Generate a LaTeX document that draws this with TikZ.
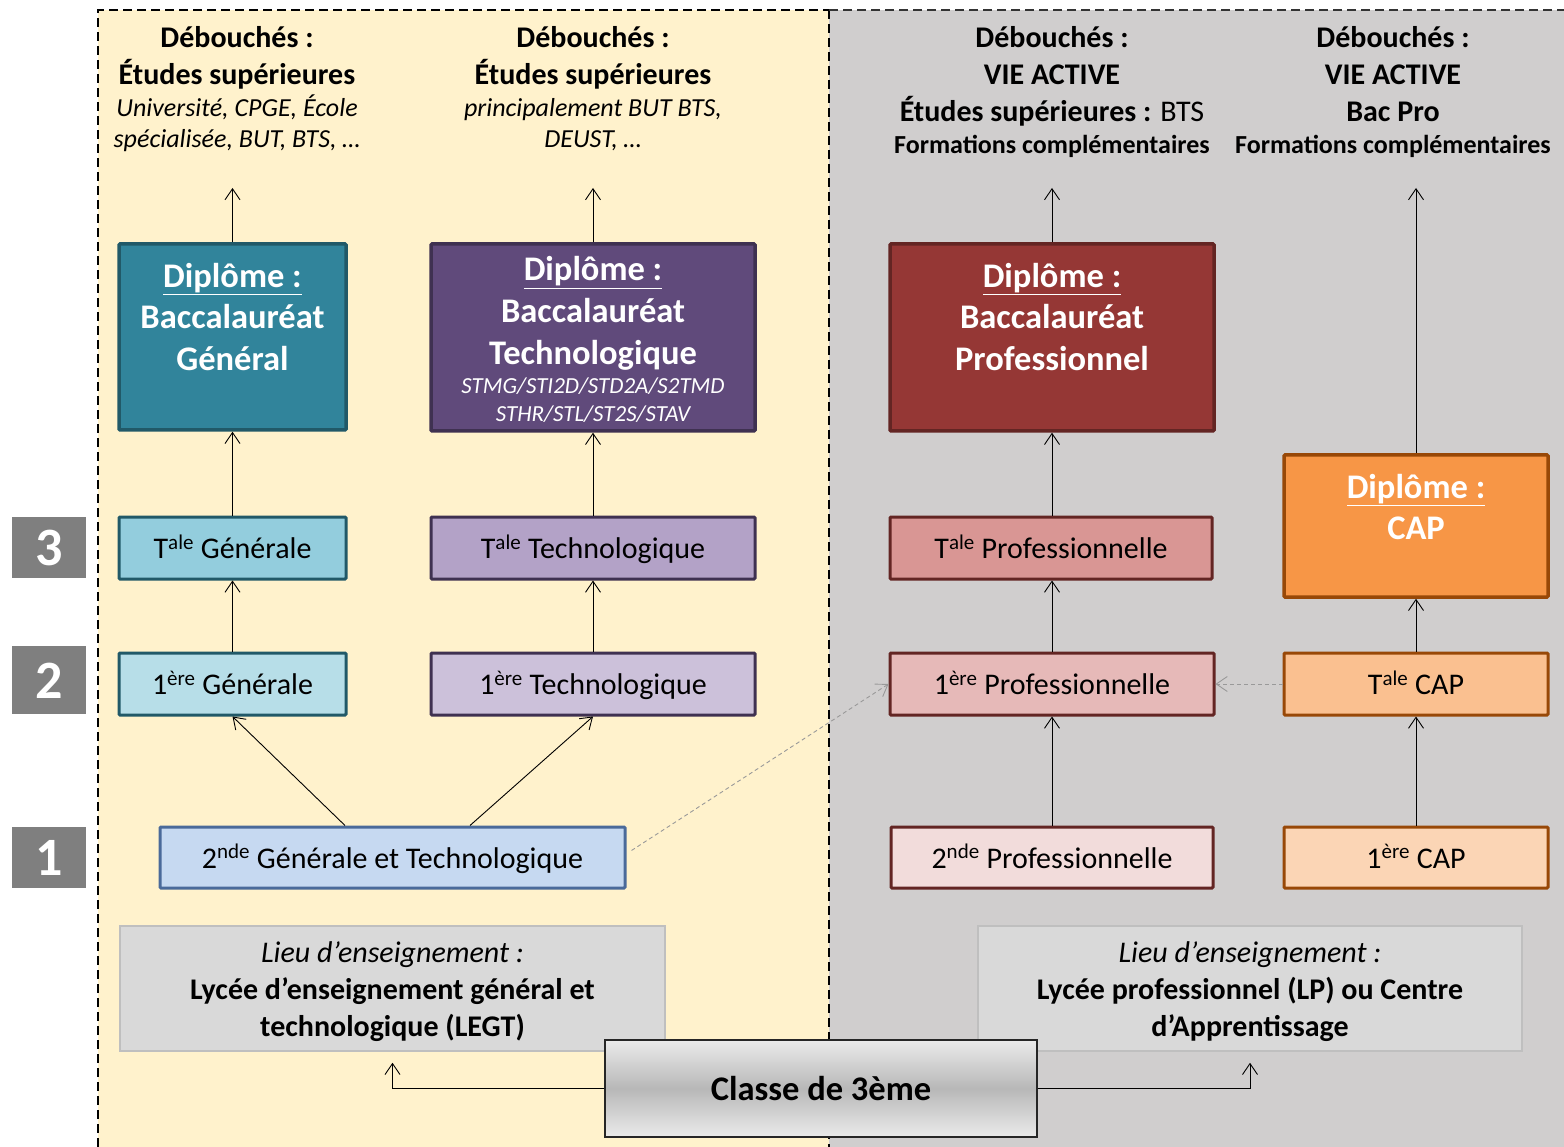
\documentclass[tikz,border=0pt]{standalone}
\usepackage{fontspec}
\setmainfont{Carlito}
\usetikzlibrary{arrows.meta}
\definecolor{cream}{HTML}{FFF2CC}
\definecolor{rgray}{HTML}{D0CECE}
\definecolor{lieuF}{HTML}{D9D9D9}
\definecolor{lieuB}{HTML}{BFBFBF}
\definecolor{numG}{HTML}{7F7F7F}
\definecolor{tealD}{HTML}{31849B}
\definecolor{tealB}{HTML}{215968}
\definecolor{tealM}{HTML}{93CDDD}
\definecolor{tealL}{HTML}{B7DEE8}
\definecolor{purD}{HTML}{604A7B}
\definecolor{purB}{HTML}{3F3151}
\definecolor{purM}{HTML}{B3A2C7}
\definecolor{purL}{HTML}{CCC1DA}
\definecolor{redD}{HTML}{953735}
\definecolor{redB}{HTML}{632523}
\definecolor{redM}{HTML}{D99694}
\definecolor{redL}{HTML}{E6B9B8}
\definecolor{redX}{HTML}{F2DCDB}
\definecolor{orD}{HTML}{F79646}
\definecolor{orB}{HTML}{984807}
\definecolor{orM}{HTML}{FAC090}
\definecolor{orL}{HTML}{FBD5B5}
\definecolor{bluL}{HTML}{C6D9F1}
\definecolor{bluB}{HTML}{4A6A9A}
\begin{document}
\begin{tikzpicture}[x=1pt,y=-1pt,
  txt/.style={anchor=base,inner sep=0pt},
  hb/.style={txt,font=\fontsize{30}{34}\selectfont\bfseries},
  hi/.style={txt,font=\fontsize{26}{30}\selectfont\itshape},
  hs/.style={txt,font=\fontsize{26}{30}\selectfont\bfseries},
  dip/.style={txt,text=white,font=\fontsize{34.5}{40}\selectfont\bfseries},
  dipi/.style={txt,text=white,font=\fontsize{23}{27}\selectfont\itshape},
  dipbox/.style={draw=#1,line width=3.5pt,rounded corners=1pt,inner sep=0pt},
  cls/.style={draw=#1,line width=3pt,rounded corners=1pt,inner sep=0pt,minimum height=62pt,
     font=\fontsize{30}{34}\selectfont,text height=25pt,text depth=4pt},
  num/.style={fill=numG,text=white,font=\fontsize{54}{60}\selectfont\bfseries,minimum width=74pt,inner sep=0pt,text height=36pt,text depth=0pt},
  lieu/.style={fill=lieuF,draw=lieuB,line width=1.5pt,minimum width=545pt,minimum height=125pt,inner sep=0pt},
  lt/.style={txt,font=\fontsize{30}{34}\selectfont},
  arr/.style={-{Straight Barb[length=11pt,width=15pt]},line width=0.9pt,black},
  darr/.style={-{Straight Barb[length=11pt,width=15pt]},line width=0.9pt,gray!80,dash pattern=on 4pt off 3pt},
]
\useasboundingbox (0,0) rectangle (1564,1147);
% panels
\fill[cream] (98,10) rectangle (829,1147);
\fill[rgray] (829,10) rectangle (1564,1147);
\draw[line width=2pt,dash pattern=on 9pt off 5pt] (98,1147) -- (98,10) -- (829,10);
\draw[line width=2pt,dash pattern=on 9pt off 5pt] (829,10) -- (829,1147);
\draw[line width=1.5pt,dash pattern=on 9pt off 5pt,black!80] (829,10) -- (1564,10);

% row numbers
\node[num,minimum height=61pt] (n3) at (49,547.5) {3};
\node[num,minimum height=68pt] (n2) at (49,680) {2};
\node[num,minimum height=61pt] (n1) at (49,857.5) {1};

% headers col 1
\node[hb] (h1a) at (237,48) {Débouchés :};
\node[hb] (h1b) at (237,85) {Études supérieures};
\node[hi] (h1c) at (237,117) {Université, CPGE, École};
\node[hi] (h1d) at (237,148) {spécialisée, BUT, BTS, …};
% col 2
\node[hb] (h2a) at (593,48) {Débouchés :};
\node[hb] (h2b) at (593,85) {Études supérieures};
\node[hi] (h2c) at (593,117) {principalement BUT BTS,};
\node[hi] (h2d) at (593,148) {DEUST, …};
% col 3
\node[hb] (h3a) at (1052,48) {Débouchés :};
\node[hb] (h3b) at (1052,85) {VIE ACTIVE};
\node[hb] (h3c) at (1052,122) {Études supérieures :\mdseries{} BTS};
\node[hs] (h3d) at (1052,154) {Formations complémentaires};
% col 4
\node[hb] (h4a) at (1393,48) {Débouchés :};
\node[hb] (h4b) at (1393,85) {VIE ACTIVE};
\node[hb] (h4c) at (1393,122) {Bac Pro};
\node[hs] (h4d) at (1393,154) {Formations complémentaires};

\coordinate (outG) at (232.5,188);
\coordinate (outT) at (593,188);
\coordinate (outP) at (1052,188);
\coordinate (outC) at (1416,188);

% diploma boxes
\node[dipbox=tealB,fill=tealD,minimum width=227pt,minimum height=186pt] (bacG) at (232.5,337) {};
\node[dip] (bacG1) at (232.5,287.5) {\underline{Diplôme :}};
\node[dip] (bacG2) at (232.5,328.5) {Baccalauréat};
\node[dip] (bacG3) at (232.5,370.5) {Général};

\node[dipbox=purB,fill=purD,minimum width=324pt,minimum height=187pt] (bacT) at (593,337.5) {};
\node[dip] (bacT1) at (593,281) {\underline{Diplôme :}};
\node[dip] (bacT2) at (593,323) {Baccalauréat};
\node[dip] (bacT3) at (593,365) {Technologique};
\node[dipi] (bacT4) at (593,394) {STMG/STI2D/STD2A/S2TMD};
\node[dipi] (bacT5) at (593,422) {STHR/STL/ST2S/STAV};

\node[dipbox=redB,fill=redD,minimum width=324pt,minimum height=187pt] (bacP) at (1052,337.5) {};
\node[dip] (bacP1) at (1052,287.5) {\underline{Diplôme :}};
\node[dip] (bacP2) at (1052,328.5) {Baccalauréat};
\node[dip] (bacP3) at (1052,370.5) {Professionnel};

\node[dipbox=orB,fill=orD,minimum width=264pt,minimum height=142pt] (capD) at (1416,526) {};
\node[dip] (capD1) at (1416,498) {\underline{Diplôme :}};
\node[dip] (capD2) at (1416,539) {CAP};

% class boxes
\node[cls=tealB,fill=tealM,minimum width=227pt] (tG) at (232.5,548) {T\textsuperscript{ale} Générale};
\node[cls=purB,fill=purM,minimum width=324pt] (tT) at (593,548) {T\textsuperscript{ale} Technologique};
\node[cls=redB,fill=redM,minimum width=322pt] (tP) at (1051,548) {T\textsuperscript{ale} Professionnelle};

\node[cls=tealB,fill=tealL,minimum width=227pt] (pG) at (232.5,684) {1\textsuperscript{ère} Générale};
\node[cls=purB,fill=purL,minimum width=324pt] (pT) at (593,684) {1\textsuperscript{ère} Technologique};
\node[cls=redB,fill=redL,minimum width=324pt] (pP) at (1052,684) {1\textsuperscript{ère} Professionnelle};
\node[cls=orB,fill=orM,minimum width=264pt] (tC) at (1416,684) {T\textsuperscript{ale} CAP};

\node[cls=bluB,fill=bluL,minimum width=465pt,minimum height=61pt] (sGT) at (392.5,857.5) {2\textsuperscript{nde} Générale et Technologique};
\node[cls=redB,fill=redX,minimum width=322pt,minimum height=61pt] (sP) at (1052,857.5) {2\textsuperscript{nde} Professionnelle};
\node[cls=orB,fill=orL,minimum width=264pt,minimum height=61pt] (pC) at (1416,857.5) {1\textsuperscript{ère} CAP};

% lieu boxes
\node[lieu] (lieuL) at (392.5,988.5) {};
\node[lt,font=\fontsize{30}{34}\selectfont\itshape] (lL1) at (392.5,962) {Lieu d’enseignement :};
\node[lt,font=\fontsize{30}{34}\selectfont\bfseries] (lL2) at (392.5,999) {Lycée d’enseignement général et};
\node[lt,font=\fontsize{30}{34}\selectfont\bfseries] (lL3) at (392.5,1036) {technologique (LEGT)};

\node[lieu,minimum width=544pt] (lieuR) at (1250,988.5) {};
\node[lt,font=\fontsize{30}{34}\selectfont\itshape] (lR1) at (1250,962) {Lieu d’enseignement :};
\node[lt,font=\fontsize{30}{34}\selectfont\bfseries] (lR2) at (1250,999) {Lycée professionnel (LP) ou Centre};
\node[lt,font=\fontsize{30}{34}\selectfont\bfseries] (lR3) at (1250,1036) {d’Apprentissage};

% classe de 3eme
\node[draw=black!85,line width=1.2pt,minimum width=432pt,minimum height=97pt,inner sep=0pt,
  top color=black!8,bottom color=black!8,middle color=black!28,
  font=\fontsize{34.5}{40}\selectfont\bfseries] (cls3) at (821,1088.5) {Classe de 3ème};

% arrows
\draw[arr,shorten >=11pt] (cls3.west) -| (lieuL.south);
\draw[arr,shorten >=11pt] (cls3.east) -| (lieuR.south);

\draw[arr] ([xshift=-47.5pt]sGT.north) -- (pG.south);
\draw[arr] ([xshift=77.5pt]sGT.north) -- (pT.south);
\draw[arr] (pG) -- (tG);
\draw[arr] (tG) -- (bacG);
\draw[arr] (bacG) -- (outG);
\draw[arr] (pT) -- (tT);
\draw[arr] (tT) -- (bacT);
\draw[arr] (bacT) -- (outT);
\draw[arr] (sP) -- (pP);
\draw[arr] (pP.north) -- (tP.south -| pP.north);
\draw[arr] (tP.north -| bacP.south) -- (bacP.south);
\draw[arr] (bacP) -- (outP);
\draw[arr] (pC) -- (tC);
\draw[arr] (tC) -- (capD);
\draw[arr] (capD) -- (outC);

\draw[darr] ([xshift=5pt,yshift=7pt]sGT.east) -- (pP.west);
\draw[darr] (tC.west) -- (pP.east);
\end{tikzpicture}
\end{document}
